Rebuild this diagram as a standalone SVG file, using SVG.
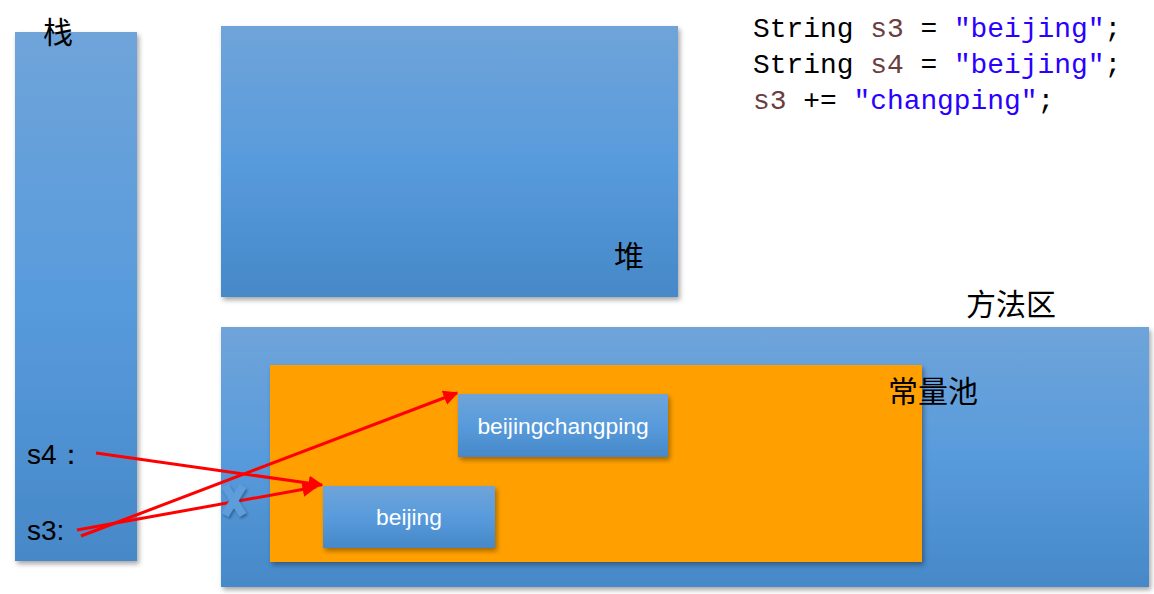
<svg xmlns="http://www.w3.org/2000/svg" width="1154" height="594" viewBox="0 0 1154 594">
<defs>
<linearGradient id="blue" x1="0" y1="0" x2="0" y2="1">
<stop offset="0" stop-color="#6fa4d9"/>
<stop offset="0.5" stop-color="#589bdc"/>
<stop offset="1" stop-color="#4688c8"/>
</linearGradient>
<filter id="sh" x="-5%" y="-5%" width="115%" height="115%">
<feDropShadow dx="2" dy="3" stdDeviation="2.5" flood-color="#000" flood-opacity="0.35"/>
</filter>
<filter id="xsh" x="-50%" y="-50%" width="200%" height="200%">
<feDropShadow dx="1.5" dy="2" stdDeviation="1.2" flood-color="#1a3f6a" flood-opacity="0.55"/>
</filter>
<marker id="arr" viewBox="0 0 10 10" refX="9" refY="5" markerWidth="5" markerHeight="5" orient="auto" markerUnits="strokeWidth">
<path d="M0,0 L10,5 L0,10 z" fill="#ff0000"/>
</marker>
<style>
.blk{fill:url(#blue);filter:url(#sh)}
.cn{font-family:"Noto Sans CJK SC","Noto Sans",sans-serif;font-size:30px;fill:#000}
.lab{font-family:"Liberation Sans",Arial,sans-serif;font-size:28px;fill:#000}
.code{font-family:"Liberation Mono","DejaVu Sans Mono",monospace;font-size:27.9px;fill:#000}
.v{fill:#6a3e3e}
.s{fill:#2a00ff}
.bx{font-family:"Liberation Sans",Arial,sans-serif;font-size:22.8px;fill:#fff;text-anchor:middle}
.ln{stroke:#ff0000;stroke-width:3;fill:none}
</style>
</defs>
<g id="stack">
<rect class="blk" x="15" y="32" width="122" height="529"/>
<text class="cn" x="43" y="43">栈</text>
<text class="lab" x="27" y="464">s4：</text>
<text class="lab" x="27" y="540">s3:</text>
</g>
<g id="heap">
<rect class="blk" x="221" y="26" width="457" height="271"/>
<text class="cn" x="614" y="267">堆</text>
</g>
<g id="method-area">
<text class="cn" x="966" y="315">方法区</text>
<rect class="blk" x="221" y="327" width="928" height="260"/>
</g>
<g id="constant-pool">
<rect x="270" y="365" width="652" height="197" fill="#ffa000" filter="url(#sh)"/>
<text class="cn" x="888" y="402">常量池</text>
</g>
<g id="node-beijingchangping">
<rect class="blk" x="458" y="394" width="210" height="63"/>
<text class="bx" x="563" y="434">beijingchangping</text>
</g>
<g id="node-beijing">
<rect class="blk" x="323" y="486" width="172" height="62"/>
<text class="bx" x="409" y="525">beijing</text>
</g>
<g id="connectors">
<line class="ln" x1="96" y1="453" x2="322" y2="485" marker-end="url(#arr)"/>
<line class="ln" x1="77" y1="530" x2="316" y2="487" marker-end="url(#arr)"/>
<line class="ln" x1="81" y1="536" x2="457" y2="393" marker-end="url(#arr)"/>
</g>
<g id="xmark" stroke="#5d9ddc" stroke-width="8" stroke-linecap="butt" filter="url(#xsh)">
<line x1="225" y1="486" x2="243" y2="515"/>
<line x1="243" y1="486" x2="225" y2="515"/>
</g>
<g id="code">
<text class="code" x="753" y="37">String <tspan class="v">s3</tspan> = <tspan class="s">"beijing"</tspan>;</text>
<text class="code" x="753" y="73">String <tspan class="v">s4</tspan> = <tspan class="s">"beijing"</tspan>;</text>
<text class="code" x="753" y="109"><tspan class="v">s3</tspan> += <tspan class="s">"changping"</tspan>;</text>
</g>
</svg>
